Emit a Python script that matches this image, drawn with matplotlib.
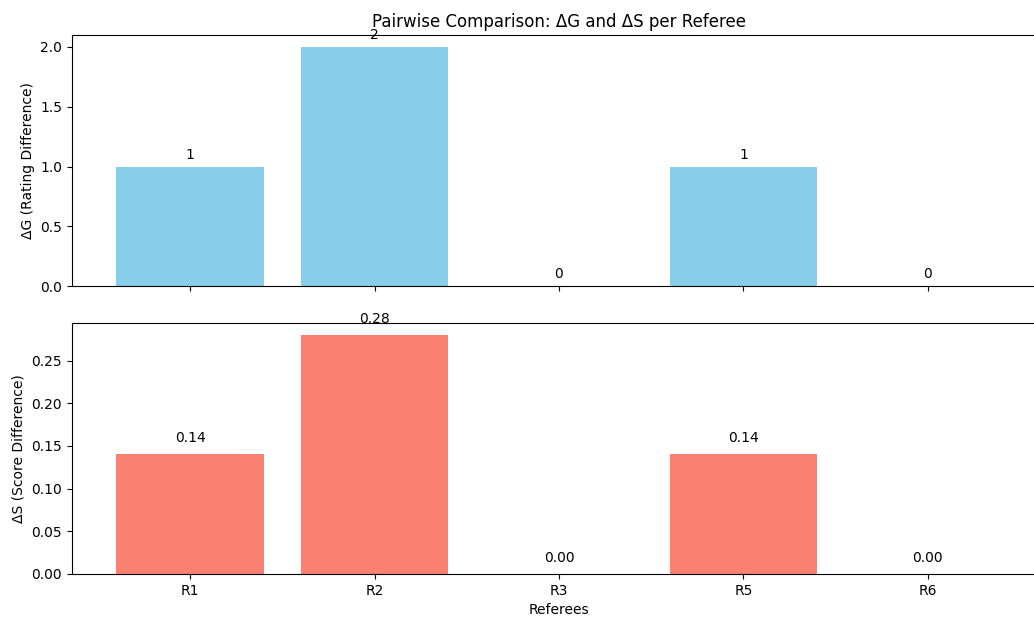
import matplotlib.pyplot as plt
from matplotlib.ticker import MultipleLocator

# %% Data
referees = ["R1", "R2", "R3", "R5", "R6"]
delta_g = [1, 2, 0, 1, 0]
delta_s = [0.14, 0.28, 0.00, 0.14, 0.00]

# %% Plot
fig, axs = plt.subplots(2, 1, figsize=(10.34, 6.2), dpi=100, sharex=True)

axs[0].bar(referees, delta_g, color="skyblue")
for i, v in enumerate(delta_g):
    axs[0].text(i, v + 0.04, str(v), ha="center", va="bottom")
axs[0].set_ylabel("ΔG (Rating Difference)")
axs[0].set_title("Pairwise Comparison: ΔG and ΔS per Referee")
axs[0].yaxis.set_major_locator(MultipleLocator(0.5))

axs[1].bar(referees, delta_s, color="salmon")
for i, v in enumerate(delta_s):
    axs[1].text(i, v + 0.011, f"{v:.2f}", ha="center", va="bottom")
axs[1].set_ylabel("ΔS (Score Difference)")
axs[1].set_xlabel("Referees")

# original output was cropped on the right, axes run past the edge
fig.subplots_adjust(left=0.0696, right=1.0116, top=0.9435, bottom=0.0742, hspace=0.147)
fig.savefig("out.png", dpi=100)
